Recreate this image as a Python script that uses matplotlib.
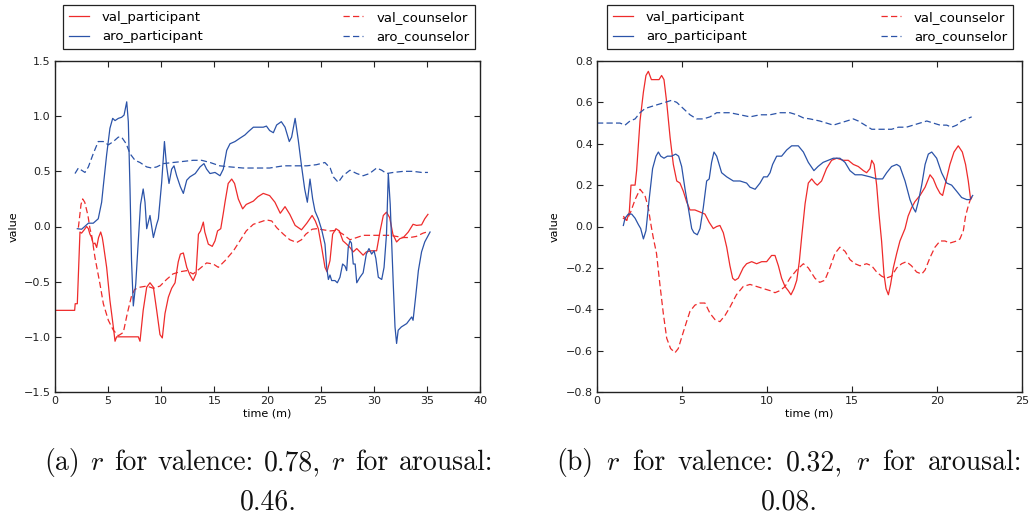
import matplotlib
matplotlib.use('Agg')
import matplotlib.pyplot as plt

RED = '#ee2b2b'
BLUE = '#2b53a8'

# ---------------- panel (a) ----------------
a_valp_t = [0, 1.85, 1.9, 2.1, 2.35, 2.5, 2.75, 2.98, 3.14, 3.29, 3.45, 3.6, 3.76, 3.92, 4.1, 4.3, 4.45, 4.55, 4.86, 5.17, 5.49, 5.65, 5.8, 6.2, 7.0, 7.84, 8.0, 8.15, 8.3, 8.63, 8.94, 9.26, 9.57, 9.88, 10.1, 10.35, 10.67, 10.98, 11.3, 11.45, 11.6, 11.8, 12.08, 12.4, 12.7, 13.0, 13.27, 13.5, 13.7, 13.96, 14.1, 14.43, 14.8, 15.06, 15.3, 15.6, 15.84, 16.0, 16.3, 16.63, 16.9, 17.25, 17.66, 18.0, 18.67, 19.1, 19.6, 20.2, 20.7, 21.2, 21.65, 22.1, 22.6, 23.2, 23.7, 24.2, 24.5, 24.78, 25.1, 25.41, 25.6, 25.88, 26.13, 26.44, 26.76, 27.1, 27.45, 27.76, 28.07, 28.4, 28.7, 29.0, 29.3, 29.8, 30.27, 30.6, 30.9, 31.2, 31.5, 31.8, 32.15, 32.46, 32.78, 33.25, 33.7, 34.03, 34.5, 34.8, 35.1]
a_valp_v = [-0.76, -0.76, -0.70, -0.70, -0.05, -0.06, -0.03, 0.0, -0.02, -0.07, -0.1, -0.16, -0.15, -0.19, -0.1, -0.05, -0.1, -0.16, -0.37, -0.67, -0.91, -1.04, -1.0, -1.0, -1.0, -1.0, -1.04, -0.9, -0.76, -0.55, -0.51, -0.55, -0.76, -0.98, -1.01, -0.79, -0.64, -0.56, -0.51, -0.41, -0.32, -0.25, -0.24, -0.37, -0.44, -0.49, -0.43, -0.07, -0.04, 0.04, -0.05, -0.16, -0.18, -0.13, -0.04, -0.02, 0.12, 0.22, 0.39, 0.43, 0.39, 0.25, 0.16, 0.2, 0.23, 0.27, 0.30, 0.28, 0.22, 0.12, 0.18, 0.11, 0.01, -0.03, 0.03, 0.1, 0.05, -0.02, -0.19, -0.37, -0.41, -0.31, -0.07, -0.02, -0.04, -0.13, -0.16, -0.19, -0.23, -0.2, -0.23, -0.26, -0.23, -0.22, -0.22, -0.04, 0.1, 0.13, 0.08, -0.07, -0.14, -0.11, -0.1, -0.05, 0.02, 0.01, 0.015, 0.07, 0.11]

a_valc_t = [2.2, 2.45, 2.6, 2.8, 3.1, 3.29, 3.45, 3.76, 4.23, 4.55, 5.02, 5.49, 5.96, 6.43, 6.8, 7.2, 7.5, 8.0, 8.63, 9.26, 9.88, 10.5, 11.1, 11.76, 12.4, 13.0, 13.65, 14.27, 14.9, 15.37, 16.0, 16.8, 17.4, 18.0, 18.67, 19.3, 19.9, 20.4, 20.86, 21.5, 22.1, 22.75, 23.2, 23.6, 24.2, 24.6, 25.25, 25.9, 26.5, 27.1, 27.76, 28.4, 29.0, 29.6, 30.27, 30.9, 31.5, 32.15, 32.8, 33.4, 34.0, 34.65, 35.0]
a_valc_v = [-0.01, 0.2, 0.25, 0.22, 0.1, -0.02, -0.08, -0.28, -0.52, -0.70, -0.85, -0.94, -0.99, -0.96, -0.79, -0.63, -0.57, -0.55, -0.54, -0.56, -0.54, -0.48, -0.43, -0.41, -0.40, -0.43, -0.38, -0.33, -0.34, -0.37, -0.31, -0.22, -0.13, -0.04, 0.02, 0.04, 0.06, 0.05, -0.01, -0.07, -0.12, -0.145, -0.12, -0.07, -0.025, -0.02, -0.03, -0.04, -0.035, -0.07, -0.12, -0.1, -0.08, -0.08, -0.08, -0.08, -0.08, -0.09, -0.1, -0.1, -0.09, -0.06, -0.05]

a_arop_t = [2.1, 2.5, 2.8, 3.14, 3.6, 4.07, 4.39, 4.55, 4.86, 5.17, 5.43, 5.65, 5.96, 6.27, 6.5, 6.75, 6.9, 7.06, 7.2, 7.37, 7.6, 7.84, 8.05, 8.3, 8.47, 8.63, 8.94, 9.26, 9.57, 9.73, 10.04, 10.3, 10.5, 10.73, 10.98, 11.2, 11.45, 11.8, 12.08, 12.4, 12.7, 13.2, 13.65, 14.02, 14.27, 14.59, 15.06, 15.53, 15.84, 16.16, 16.47, 16.94, 17.4, 17.88, 18.2, 18.67, 19.1, 19.6, 19.9, 20.2, 20.55, 20.86, 21.3, 21.65, 22.05, 22.27, 22.6, 22.9, 23.2, 23.5, 23.75, 24.0, 24.25, 24.47, 24.78, 25.1, 25.41, 25.57, 25.73, 25.88, 26.04, 26.35, 26.57, 26.82, 27.07, 27.3, 27.45, 27.6, 27.76, 27.9, 28.07, 28.25, 28.4, 28.7, 29.0, 29.3, 29.55, 29.8, 30.03, 30.2, 30.43, 30.75, 30.97, 31.2, 31.37, 31.55, 31.84, 32.0, 32.15, 32.3, 32.6, 33.1, 33.57, 33.7, 33.94, 34.2, 34.5, 34.8, 35.3]
a_arop_v = [-0.02, -0.025, 0.0, 0.03, 0.03, 0.07, 0.22, 0.37, 0.65, 0.89, 0.98, 0.96, 0.98, 0.99, 1.01, 1.13, 0.95, 0.34, -0.3, -0.72, -0.52, -0.13, 0.2, 0.34, 0.22, -0.02, 0.1, -0.1, 0.02, 0.07, 0.4, 0.77, 0.55, 0.39, 0.52, 0.55, 0.46, 0.36, 0.3, 0.42, 0.45, 0.48, 0.54, 0.57, 0.52, 0.48, 0.49, 0.46, 0.52, 0.69, 0.75, 0.77, 0.8, 0.83, 0.86, 0.9, 0.9, 0.9, 0.91, 0.87, 0.85, 0.92, 0.95, 0.9, 0.77, 0.81, 0.98, 0.78, 0.55, 0.34, 0.22, 0.43, 0.25, 0.14, 0.07, -0.03, -0.16, -0.37, -0.48, -0.44, -0.49, -0.49, -0.51, -0.46, -0.34, -0.36, -0.4, -0.19, -0.13, -0.15, -0.34, -0.34, -0.51, -0.46, -0.42, -0.25, -0.2, -0.25, -0.22, -0.29, -0.46, -0.48, -0.37, -0.07, 0.48, 0.2, -0.53, -0.91, -1.06, -0.94, -0.91, -0.88, -0.82, -0.85, -0.64, -0.4, -0.23, -0.14, -0.05]

a_aroc_t = [1.88, 2.2, 2.5, 2.82, 3.14, 3.6, 4.07, 4.55, 5.02, 5.49, 5.96, 6.27, 6.7, 7.06, 7.53, 8.0, 8.63, 9.1, 9.57, 10.2, 11.1, 12.08, 13.0, 13.8, 14.6, 15.5, 16.5, 17.7, 18.98, 20.2, 21.5, 22.1, 23.7, 24.6, 25.4, 25.9, 26.2, 26.66, 27.1, 27.76, 28.4, 29.0, 29.6, 30.27, 30.75, 31.2, 31.84, 32.8, 33.7, 34.5, 35.1]
a_aroc_v = [0.48, 0.53, 0.51, 0.49, 0.54, 0.66, 0.77, 0.77, 0.74, 0.77, 0.81, 0.81, 0.75, 0.66, 0.6, 0.58, 0.54, 0.53, 0.54, 0.57, 0.58, 0.59, 0.6, 0.6, 0.58, 0.55, 0.54, 0.53, 0.53, 0.53, 0.55, 0.55, 0.55, 0.56, 0.58, 0.53, 0.45, 0.4, 0.46, 0.51, 0.48, 0.46, 0.48, 0.53, 0.51, 0.48, 0.49, 0.5, 0.5, 0.49, 0.49]

# ---------------- panel (b) ----------------
b_valp_t = [1.55, 1.75, 1.9, 2.0, 2.24, 2.33, 2.53, 2.73, 2.88, 3.02, 3.2, 3.5, 3.65, 3.8, 3.94, 4.1, 4.3, 4.49, 4.69, 4.88, 5.08, 5.27, 5.47, 5.76, 6.06, 6.35, 6.6, 6.84, 7.04, 7.23, 7.43, 7.63, 7.82, 7.98, 8.12, 8.31, 8.6, 8.8, 9.1, 9.39, 9.69, 9.98, 10.27, 10.47, 10.67, 10.86, 11.06, 11.25, 11.41, 11.59, 11.75, 11.9, 12.04, 12.24, 12.43, 12.63, 12.82, 12.96, 13.21, 13.5, 13.8, 14.1, 14.49, 14.78, 15.08, 15.37, 15.67, 15.86, 16.06, 16.16, 16.3, 16.45, 16.6, 16.74, 16.88, 17.0, 17.14, 17.27, 17.43, 17.63, 17.82, 18.12, 18.3, 18.5, 18.7, 19.0, 19.3, 19.59, 19.78, 19.98, 20.18, 20.33, 20.53, 20.76, 21.0, 21.25, 21.49, 21.68, 21.84, 21.98, 22.04]
b_valp_v = [0.04, 0.03, 0.07, 0.2, 0.2, 0.27, 0.51, 0.65, 0.73, 0.75, 0.71, 0.71, 0.71, 0.73, 0.71, 0.6, 0.43, 0.3, 0.22, 0.21, 0.17, 0.12, 0.08, 0.08, 0.07, 0.06, 0.02, -0.01, 0.0, 0.005, -0.03, -0.1, -0.19, -0.25, -0.26, -0.25, -0.2, -0.18, -0.17, -0.18, -0.17, -0.17, -0.14, -0.14, -0.19, -0.25, -0.29, -0.31, -0.33, -0.3, -0.26, -0.17, -0.05, 0.11, 0.21, 0.23, 0.21, 0.2, 0.22, 0.28, 0.32, 0.33, 0.32, 0.32, 0.3, 0.29, 0.27, 0.26, 0.28, 0.32, 0.3, 0.2, 0.05, -0.07, -0.23, -0.3, -0.33, -0.28, -0.2, -0.13, -0.07, -0.01, 0.05, 0.09, 0.12, 0.15, 0.19, 0.25, 0.23, 0.19, 0.16, 0.15, 0.22, 0.3, 0.36, 0.39, 0.36, 0.3, 0.22, 0.13, 0.14]

b_valc_t = [1.55, 1.75, 1.98, 2.24, 2.53, 2.82, 3.02, 3.15, 3.3, 3.5, 3.7, 3.9, 4.1, 4.33, 4.59, 4.78, 5.04, 5.27, 5.47, 5.76, 6.06, 6.35, 6.65, 6.94, 7.23, 7.53, 7.82, 8.2, 8.6, 9.0, 9.39, 9.78, 10.18, 10.47, 10.76, 11.06, 11.35, 11.75, 12.14, 12.43, 12.82, 13.1, 13.4, 13.7, 14.0, 14.29, 14.59, 14.88, 15.18, 15.47, 15.86, 16.16, 16.45, 16.74, 17.0, 17.33, 17.63, 17.92, 18.2, 18.5, 18.8, 19.1, 19.3, 19.59, 19.88, 20.18, 20.47, 20.76, 21.16, 21.35, 21.55, 21.68, 21.84, 22.04]
b_valc_v = [0.05, 0.03, 0.07, 0.13, 0.18, 0.15, 0.09, 0.02, -0.05, -0.13, -0.28, -0.42, -0.54, -0.59, -0.61, -0.59, -0.52, -0.46, -0.41, -0.38, -0.37, -0.37, -0.42, -0.45, -0.46, -0.43, -0.39, -0.33, -0.29, -0.28, -0.29, -0.3, -0.31, -0.32, -0.31, -0.29, -0.25, -0.21, -0.18, -0.2, -0.25, -0.27, -0.26, -0.2, -0.13, -0.1, -0.12, -0.16, -0.18, -0.19, -0.18, -0.19, -0.22, -0.24, -0.25, -0.24, -0.2, -0.18, -0.17, -0.19, -0.22, -0.23, -0.21, -0.15, -0.1, -0.07, -0.07, -0.08, -0.07, -0.06, -0.02, 0.05, 0.1, 0.15]

b_arop_t = [1.55, 1.65, 1.84, 2.04, 2.24, 2.43, 2.57, 2.73, 2.88, 3.08, 3.27, 3.47, 3.61, 3.75, 3.94, 4.14, 4.39, 4.63, 4.8, 4.98, 5.18, 5.37, 5.57, 5.7, 5.9, 6.06, 6.25, 6.45, 6.6, 6.74, 6.88, 7.04, 7.33, 7.63, 8.02, 8.41, 8.8, 9.0, 9.3, 9.59, 9.8, 10.02, 10.18, 10.33, 10.57, 10.86, 11.16, 11.45, 11.84, 12.14, 12.43, 12.76, 13.0, 13.3, 13.6, 13.9, 14.29, 14.59, 14.88, 15.18, 15.57, 16.06, 16.45, 16.8, 17.04, 17.33, 17.63, 17.82, 18.12, 18.41, 18.6, 18.74, 18.9, 19.1, 19.3, 19.49, 19.69, 19.98, 20.27, 20.57, 20.86, 21.16, 21.45, 21.75, 21.94, 22.1]
b_arop_v = [0.005, 0.04, 0.06, 0.06, 0.04, 0.01, -0.01, -0.06, -0.02, 0.14, 0.28, 0.34, 0.36, 0.34, 0.33, 0.34, 0.34, 0.35, 0.34, 0.29, 0.18, 0.09, -0.01, -0.03, -0.04, -0.01, 0.09, 0.22, 0.23, 0.31, 0.36, 0.34, 0.26, 0.24, 0.22, 0.22, 0.21, 0.19, 0.18, 0.21, 0.24, 0.24, 0.26, 0.3, 0.34, 0.34, 0.37, 0.39, 0.39, 0.36, 0.31, 0.27, 0.29, 0.31, 0.32, 0.33, 0.33, 0.31, 0.27, 0.25, 0.25, 0.24, 0.23, 0.23, 0.26, 0.29, 0.3, 0.29, 0.22, 0.13, 0.09, 0.07, 0.12, 0.2, 0.3, 0.35, 0.36, 0.33, 0.26, 0.21, 0.2, 0.17, 0.14, 0.13, 0.13, 0.15]

b_aroc_t = [0.0, 0.8, 1.35, 1.65, 1.94, 2.24, 2.53, 2.82, 3.2, 3.6, 4.0, 4.39, 4.69, 5.08, 5.47, 5.86, 6.25, 6.65, 7.04, 7.43, 7.82, 8.41, 9.0, 9.59, 10.18, 10.76, 11.35, 11.75, 12.14, 12.53, 13.1, 13.5, 13.9, 14.29, 14.69, 15.08, 15.37, 15.77, 16.16, 16.55, 16.94, 17.33, 17.73, 18.2, 18.6, 19.0, 19.4, 19.78, 20.18, 20.57, 20.86, 21.16, 21.45, 21.75, 22.04]
b_aroc_v = [0.5, 0.5, 0.5, 0.49, 0.51, 0.52, 0.55, 0.57, 0.58, 0.59, 0.6, 0.61, 0.6, 0.57, 0.54, 0.52, 0.52, 0.53, 0.55, 0.55, 0.55, 0.54, 0.53, 0.54, 0.54, 0.55, 0.55, 0.54, 0.525, 0.52, 0.51, 0.5, 0.49, 0.5, 0.51, 0.52, 0.51, 0.49, 0.47, 0.47, 0.47, 0.47, 0.48, 0.48, 0.49, 0.5, 0.51, 0.5, 0.49, 0.49, 0.48, 0.49, 0.51, 0.52, 0.53]

labels = ['val_participant', 'aro_participant', 'val_counselor', 'aro_counselor']
a_xticks = [0, 5, 10, 15, 20, 25, 30, 35, 40]
a_yticks = [-1.5, -1.0, -0.5, 0.0, 0.5, 1.0, 1.5]
b_xticks = [0, 5, 10, 15, 20, 25]
b_yticks = [-0.8, -0.6, -0.4, -0.2, 0.0, 0.2, 0.4, 0.6, 0.8]
caption_a = ['(a) $r$ for valence: 0.78, $r$ for arousal:', '0.46.']
caption_b = ['(b) $r$ for valence: 0.32, $r$ for arousal:', '0.08.']

plt.rcParams['mathtext.fontset'] = 'cm'
plt.rcParams['font.family'] = ['DejaVu Sans']

fig = plt.figure(figsize=(10.29, 5.18), dpi=100)
H = 518.0
W = 1029.0
ax_a = fig.add_axes([55 / W, 1 - 392 / H, 425 / W, 331 / H])
ax_b = fig.add_axes([597 / W, 1 - 392 / H, 425 / W, 331 / H])

DASH = (5, 2.6)

def draw(ax, vp, vc, ap, ac, xlim, ylim, xt, yt, leg_x0, leg_w):
    l1, = ax.plot(vp[0], vp[1], color=RED, lw=0.9)
    l2, = ax.plot(vc[0], vc[1], color=RED, lw=0.9, ls='--', dashes=DASH)
    l3, = ax.plot(ap[0], ap[1], color=BLUE, lw=0.9)
    l4, = ax.plot(ac[0], ac[1], color=BLUE, lw=0.9, ls='--', dashes=DASH)
    ax.set_xlim(*xlim)
    ax.set_ylim(*ylim)
    ax.set_xticks(xt)
    ax.set_yticks(yt)
    ax.tick_params(direction='in', top=True, right=True, length=4, width=0.8,
                   labelsize=8, colors='#222222', pad=3)
    for s in ax.spines.values():
        s.set_linewidth(1.0)
        s.set_color('#222222')
    ax.set_xlabel('time (m)', fontsize=8, labelpad=2)
    ax.set_ylabel('value', fontsize=8, labelpad=4)
    leg = ax.legend([l1, l3, l2, l4], labels, ncol=2, loc='lower left',
                    bbox_to_anchor=(leg_x0, 1.036, leg_w, 0.13), mode='expand',
                    borderaxespad=0, fontsize=9.5, handlelength=1.5,
                    handletextpad=1.0, fancybox=False, framealpha=1,
                    edgecolor='#222222', borderpad=0.45, labelspacing=0.5)
    leg.get_frame().set_linewidth(0.9)

draw(ax_a, (a_valp_t, a_valp_v), (a_valc_t, a_valc_v), (a_arop_t, a_arop_v),
     (a_aroc_t, a_aroc_v), (0, 40), (-1.5, 1.5), a_xticks, a_yticks, 0.019, 0.97)
draw(ax_b, (b_valp_t, b_valp_v), (b_valc_t, b_valc_v), (b_arop_t, b_arop_v),
     (b_aroc_t, b_aroc_v), (0, 25), (-0.8, 0.8), b_xticks, b_yticks, 0.0235, 0.955)

cap_kw = dict(fontsize=20, family='cmr10', va='baseline', color='#111111')
renderer = fig.canvas.get_renderer()

def justified(text, x0, x1, y):
    words = text.split(' ')
    objs = [fig.text(0, 1 - y / H, w, ha='left', **cap_kw) for w in words]
    widths = [o.get_window_extent(renderer).width for o in objs]
    gap = (x1 - x0 - sum(widths)) / (len(words) - 1)
    x = x0
    for o, w in zip(objs, widths):
        o.set_x(x / W)
        x += w + gap

justified(caption_a[0], 44, 493, 470)
fig.text(268 / W, 1 - 509 / H, caption_a[1], ha='center', **cap_kw)
justified(caption_b[0], 556, 1022, 470)
fig.text(789 / W, 1 - 509 / H, caption_b[1], ha='center', **cap_kw)

fig.savefig('out.png', dpi=100)
